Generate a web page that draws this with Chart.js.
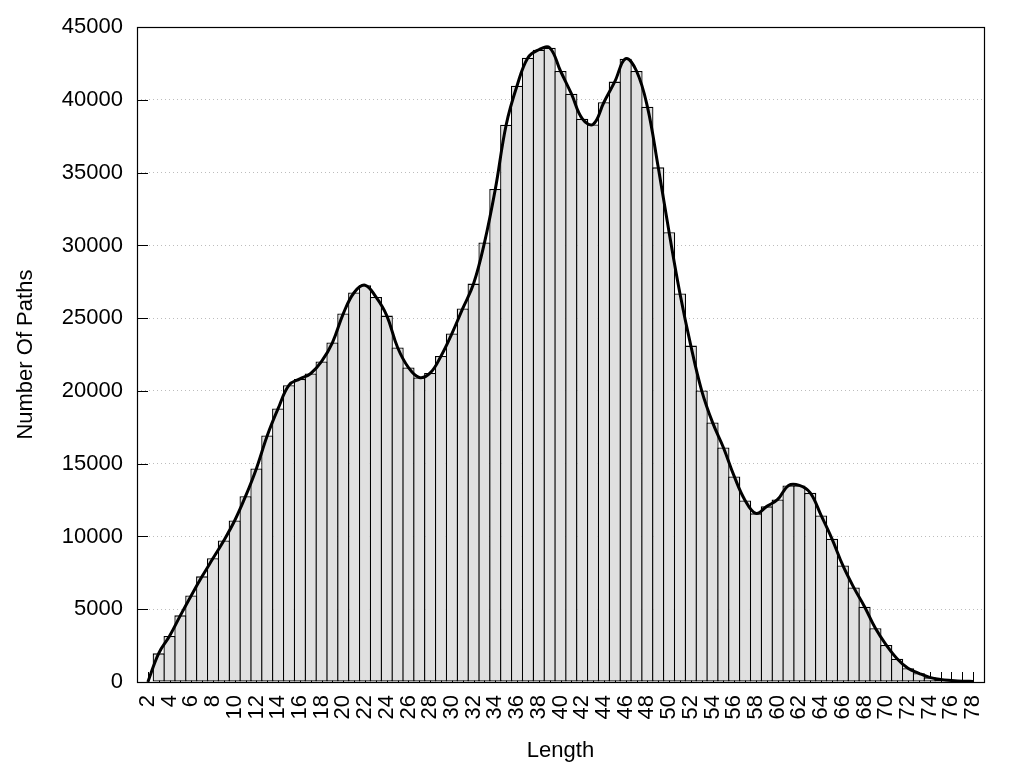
<!DOCTYPE html>
<html>
<head>
<meta charset="utf-8">
<script src="https://cdn.jsdelivr.net/npm/chart.js@4.4.1/dist/chart.umd.min.js"></script>
<style>
  html, body { margin: 0; padding: 0; background: #ffffff; }
  #wrap { width: 1024px; height: 768px; }
</style>
</head>
<body>
<div id="wrap"><canvas id="c" width="1024" height="768"></canvas></div>
<script>
const lengths = [2,3,4,5,6,7,8,9,10,11,12,13,14,15,16,17,18,19,20,21,22,23,24,25,26,27,28,29,30,31,32,33,34,35,36,37,38,39,40,41,42,43,44,45,46,47,48,49,50,51,52,53,54,55,56,57,58,59,60,61,62,63,64,65,66,67,68,69,70,71,72,73,74,75,76,77,78];
const pathCounts = [0,1970,3160,4580,5950,7260,8500,9730,11100,12770,14680,16940,18800,20400,20830,21200,22030,23330,25320,26770,27270,26460,25180,22990,21610,20930,21240,22410,23950,25670,27380,30200,33880,38300,40980,42900,43450,43590,41990,40430,38710,38320,39840,41260,42840,41990,39540,35370,30910,26700,23120,20030,17840,16120,14130,12480,11590,12070,12550,13510,13510,13000,11450,9840,8010,6500,5170,3690,2540,1600,940,600,320,180,110,60,40];
const xTickLabels = [2,4,6,8,10,12,14,16,18,20,22,24,26,28,30,32,34,36,38,40,42,44,46,48,50,52,54,56,58,60,62,64,66,68,70,72,74,76,78];
const yTickValues = [0,5000,10000,15000,20000,25000,30000,35000,40000,45000];

const FONT = "'Liberation Sans', Arial, sans-serif";
const points = lengths.map((x, i) => ({ x: x, y: pathCounts[i] }));

const frame = {
  id: 'frame',
  beforeDatasetsDraw(chart) {
    const { ctx, chartArea: a, scales: { x, y } } = chart;
    ctx.save();
    ctx.strokeStyle = '#000';
    ctx.lineWidth = 1;
    ctx.beginPath();
    lengths.forEach(v => {
      const px = Math.round(x.getPixelForValue(v)) + 0.5;
      ctx.moveTo(px, a.bottom);
      ctx.lineTo(px, a.bottom - 10);
    });
    yTickValues.forEach(v => {
      const py = Math.round(y.getPixelForValue(v)) + 0.5;
      ctx.moveTo(a.left, py);
      ctx.lineTo(a.left + 11, py);
    });
    ctx.stroke();
    ctx.restore();
  },
  afterDraw(chart) {
    const { ctx, chartArea: a } = chart;
    ctx.save();
    ctx.strokeStyle = '#000';
    ctx.lineWidth = 1.2;
    ctx.strokeRect(Math.round(a.left) + 0.5, Math.round(a.top) + 0.5,
                   Math.round(a.right - a.left), Math.round(a.bottom - a.top));
    ctx.restore();
  }
};

new Chart(document.getElementById('c'), {
  type: 'bar',
  data: {
    datasets: [
      {
        type: 'line',
        data: points,
        borderColor: '#000',
        borderWidth: 3,
        pointRadius: 0,
        tension: 0.4,
        fill: false,
        order: 0
      },
      {
        type: 'bar',
        data: points,
        backgroundColor: '#e0e0e0',
        borderColor: '#000',
        borderWidth: 1.3,
        borderSkipped: false,
        barPercentage: 1.12,
        categoryPercentage: 1.0,
        order: 1
      }
    ]
  },
  options: {
    responsive: false,
    animation: false,
    events: [],
    layout: { padding: { top: 27, right: 40, left: 0, bottom: 0 } },
    plugins: { legend: { display: false }, tooltip: { enabled: false } },
    scales: {
      x: {
        type: 'linear',
        min: 1,
        max: 79,
        offset: false,
        afterBuildTicks: s => { s.ticks = xTickLabels.map(v => ({ value: v })); },
        afterFit: s => { s.height = 86; },
        grid: { display: false, drawTicks: false, tickLength: 0 },
        border: { display: false },
        ticks: {
          autoSkip: false,
          minRotation: 90,
          maxRotation: 90,
          padding: 13,
          color: '#000',
          font: { family: FONT, size: 22 },
          callback: v => String(v)
        },
        title: {
          display: true,
          text: 'Length',
          color: '#000',
          font: { family: FONT, size: 22 },
          padding: { top: 0, bottom: 4 }
        }
      },
      y: {
        min: 0,
        max: 45000,
        afterBuildTicks: s => { s.ticks = yTickValues.map(v => ({ value: v })); },
        afterFit: s => { s.width = 137; },
        grid: {
          display: true,
          drawTicks: false,
          tickLength: 0,
          color: '#bdbdbd',
          lineWidth: 1
        },
        border: { display: false, dash: [1, 3] },
        ticks: {
          padding: 14,
          color: '#000',
          font: { family: FONT, size: 22 },
          callback: v => String(v)
        },
        title: {
          display: true,
          text: 'Number Of Paths',
          color: '#000',
          font: { family: FONT, size: 22 },
          padding: { top: 13, bottom: 0 }
        }
      }
    }
  },
  plugins: [frame]
});
</script>
</body>
</html>
